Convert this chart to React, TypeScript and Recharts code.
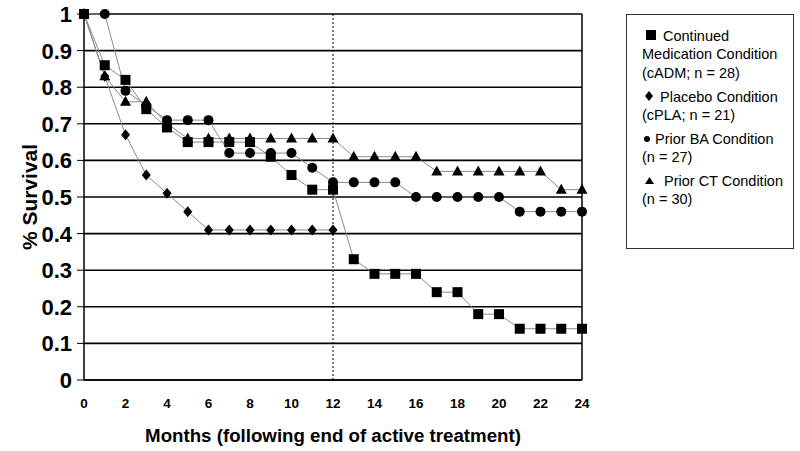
import React from 'react';
import {
  LineChart, Line, XAxis, YAxis, CartesianGrid, ReferenceLine, Label,
} from 'recharts';

// months after end of active treatment
const MONTHS = [0, 1, 2, 3, 4, 5, 6, 7, 8, 9, 10, 11, 12, 13, 14, 15, 16, 17, 18, 19, 20, 21, 22, 23, 24];
const X_LABELS = [0, 2, 4, 6, 8, 10, 12, 14, 16, 18, 20, 22, 24];
const Y_LABELS = [0, 0.1, 0.2, 0.3, 0.4, 0.5, 0.6, 0.7, 0.8, 0.9, 1];
const Y_MINOR = Array.from({ length: 51 }, (_, i) => i / 50);

// survival proportions per condition
const CADM = [1, 0.86, 0.82, 0.74, 0.69, 0.65, 0.65, 0.65, 0.65, 0.61, 0.56, 0.52, 0.52, 0.33, 0.29, 0.29, 0.29, 0.24, 0.24, 0.18, 0.18, 0.14, 0.14, 0.14, 0.14];
const CPLA = [1, 0.83, 0.67, 0.56, 0.51, 0.46, 0.41, 0.41, 0.41, 0.41, 0.41, 0.41, 0.41, null, null, null, null, null, null, null, null, null, null, null, null];
const BA = [1, 1, 0.79, 0.75, 0.71, 0.71, 0.71, 0.62, 0.62, 0.62, 0.62, 0.58, 0.54, 0.54, 0.54, 0.54, 0.5, 0.5, 0.5, 0.5, 0.5, 0.46, 0.46, 0.46, 0.46];
const CT = [1, 0.83, 0.76, 0.76, 0.7, 0.66, 0.66, 0.66, 0.66, 0.66, 0.66, 0.66, 0.66, 0.61, 0.61, 0.61, 0.61, 0.57, 0.57, 0.57, 0.57, 0.57, 0.57, 0.52, 0.52];

const data = MONTHS.map((m, i) => ({ month: m, cadm: CADM[i], cpla: CPLA[i], ba: BA[i], ct: CT[i] }));

const FONT = '"Liberation Sans", Arial, sans-serif';

type P = { cx: number; cy: number };
const Square = ({ cx, cy }: P) => <rect x={cx - 5} y={cy - 5} width={10} height={10} fill="#000" />;
const Diamond = ({ cx, cy }: P) => (
  <polygon points={`${cx},${cy - 5.5} ${cx + 4.5},${cy} ${cx},${cy + 5.5} ${cx - 4.5},${cy}`} fill="#000" />
);
const Dot = ({ cx, cy }: P) => <circle cx={cx} cy={cy} r={5} fill="#000" />;
const Tri = ({ cx, cy }: P) => (
  <polygon points={`${cx},${cy - 6} ${cx + 5.5},${cy + 4} ${cx - 5.5},${cy + 4}`} fill="#000" />
);

const marker = (Shape: (p: P) => React.ReactElement) => (props: any) => {
  const { cx, cy, index, value } = props;
  if (cx == null || cy == null || value == null) return <g key={`e-${index}`} />;
  return <g key={`d-${index}`}><Shape cx={cx} cy={cy} /></g>;
};

const XTick = ({ x, y, payload }: any) => (
  <text x={x} y={y + 10} textAnchor="middle" fill="#000" style={{ fontFamily: FONT, fontSize: 13.5, fontWeight: 'bold' }}>
    {payload.value}
  </text>
);
const YTick = ({ x, y, payload }: any) => (
  <text x={x} y={y + 8} textAnchor="end" fill="#000" style={{ fontFamily: FONT, fontSize: 22, fontWeight: 'bold' }}>
    {payload.value}
  </text>
);

const legendLine: React.CSSProperties = { height: 18.3, lineHeight: '18.3px', whiteSpace: 'nowrap' };
const sym: React.CSSProperties = { display: 'inline-block', lineHeight: '10px', verticalAlign: 'middle', position: 'relative', top: -2 };

export default function App() {
  return (
    <div style={{ position: 'absolute', left: 0, top: 0, width: 800, height: 451, background: '#fff', fontFamily: FONT }}>
      <LineChart width={800} height={451} data={data} margin={{ top: 14, right: 218, left: 0, bottom: 0 }}>
        <CartesianGrid vertical={false} stroke="#000" strokeWidth={1.6} />
        <XAxis
          dataKey="month" type="number" domain={[0, 24]} ticks={X_LABELS} height={71}
          tickLine={false} tickSize={0} tickMargin={18} interval={0}
          axisLine={{ stroke: '#000', strokeWidth: 1.5 }}
          tick={<XTick />}
        >
          <Label
            value="Months (following end of active treatment)" position="insideBottom" offset={9}
            style={{ fill: '#000', fontSize: 18.7, fontWeight: 'bold', fontFamily: FONT }}
          />
        </XAxis>
        <XAxis
          xAxisId="minor" type="number" domain={[0, 24]} ticks={MONTHS} mirror interval={0}
          tick={false} axisLine={false} tickSize={6} tickLine={{ stroke: '#000' }}
        />
        <YAxis
          type="number" domain={[0, 1]} ticks={Y_LABELS} width={84} interval={0}
          tickSize={7} tickMargin={5} tickLine={{ stroke: '#000' }}
          axisLine={{ stroke: '#000', strokeWidth: 1.5 }}
          tick={<YTick />}
        >
          <Label
            content={() => (
              <text
                x={0} y={0} transform="translate(37,197) rotate(-90)" textAnchor="middle"
                style={{ fill: '#000', fontSize: 21, fontWeight: 'bold', fontFamily: FONT }}
              >
                % Survival
              </text>
            )}
          />
        </YAxis>
        <YAxis
          yAxisId="minor" type="number" domain={[0, 1]} ticks={Y_MINOR} mirror interval={0}
          tick={false} axisLine={false} tickSize={6} tickLine={{ stroke: '#000' }}
        />
        <ReferenceLine x={12} stroke="#000" strokeDasharray="2 2" strokeWidth={1} />
        <ReferenceLine x={24} stroke="#000" strokeWidth={1.5} />
        <Line dataKey="ct" stroke="#8a8a8a" strokeWidth={1} dot={marker(Tri)} activeDot={false} isAnimationActive={false} />
        <Line dataKey="ba" stroke="#8a8a8a" strokeWidth={1} dot={marker(Dot)} activeDot={false} isAnimationActive={false} />
        <Line dataKey="cpla" stroke="#8a8a8a" strokeWidth={1} dot={marker(Diamond)} activeDot={false} isAnimationActive={false} />
        <Line dataKey="cadm" stroke="#8a8a8a" strokeWidth={1} dot={marker(Square)} activeDot={false} isAnimationActive={false} />
      </LineChart>
      <div
        style={{
          position: 'absolute', left: 626, top: 14, width: 168, height: 235,
          border: '1.5px solid #333', fontSize: 14.5, color: '#000', padding: '12px 0 0 15px', boxSizing: 'border-box',
        }}
      >
        <div style={legendLine}><span style={{ ...sym, width: 10, height: 10, background: '#000', marginLeft: 4, marginRight: 7 }} />Continued</div>
        <div style={legendLine}>Medication Condition</div>
        <div style={legendLine}>(cADM; n = 28)</div>
        <div style={{ ...legendLine, marginTop: 5.7 }}>
          <svg width={8} height={10} style={{ ...sym, marginLeft: 3, marginRight: 7 }}><polygon points="4,0 8,5 4,10 0,5" fill="#000" /></svg>Placebo Condition
        </div>
        <div style={legendLine}>(cPLA; n = 21)</div>
        <div style={{ ...legendLine, marginTop: 5.7 }}>
          <svg width={6} height={6} style={{ ...sym, top: -1, marginLeft: 2, marginRight: 5 }}><circle cx={3} cy={3} r={3} fill="#000" /></svg>Prior BA Condition
        </div>
        <div style={legendLine}>(n = 27)</div>
        <div style={{ ...legendLine, marginTop: 5.7 }}>
          <svg width={9} height={7} style={{ ...sym, marginLeft: 3, marginRight: 10 }}><polygon points="4.5,0 9,7 0,7" fill="#000" /></svg>Prior CT Condition
        </div>
        <div style={legendLine}>(n = 30)</div>
      </div>
    </div>
  );
}
